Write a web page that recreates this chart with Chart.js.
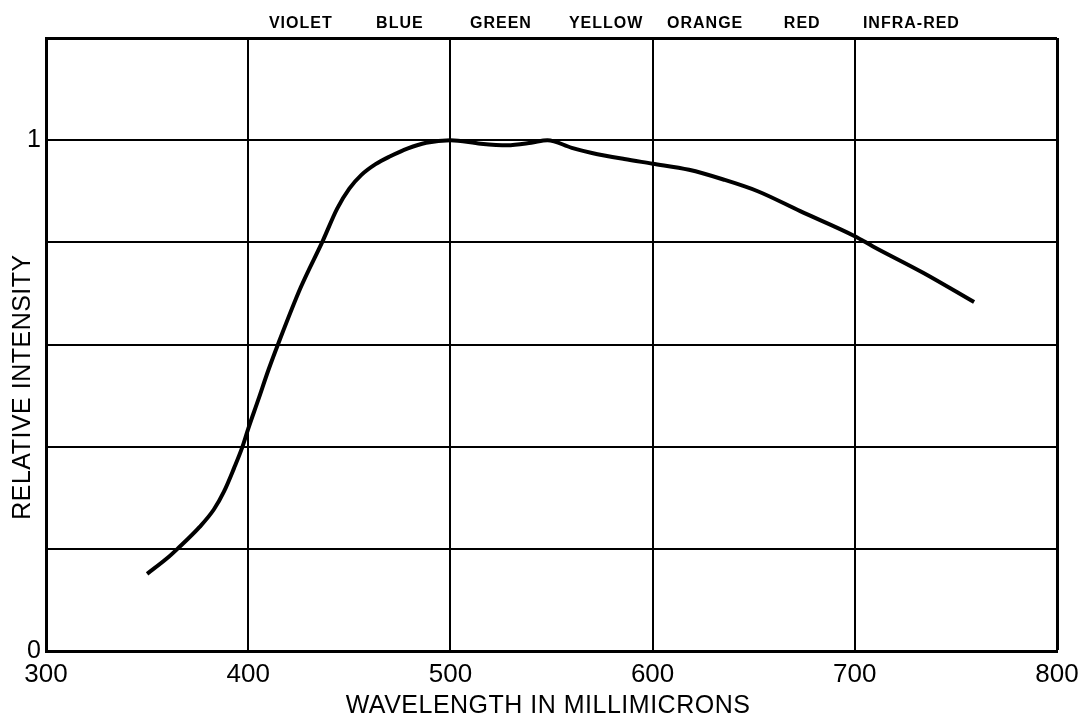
<!DOCTYPE html>
<html>
<head>
<meta charset="utf-8">
<script src="https://cdn.jsdelivr.net/npm/chart.js@4/dist/chart.umd.min.js"></script>
<style>
  html, body { margin: 0; padding: 0; background: #fff; }
  #wrap { width: 1080px; height: 721px; }
</style>
</head>
<body>
<div id="wrap"><canvas id="c" width="1080" height="721"></canvas></div>
<script>
// ---- data ----
const wavelengths = [350, 360, 365, 376, 383, 388, 393, 397, 400, 405, 410, 415, 426, 437, 444, 450, 456, 463, 470, 479, 488, 500, 515, 528, 540, 548, 560, 570, 586, 600, 618, 635, 652, 673, 700, 709, 734, 759];
const intensity   = [0.151, 0.182, 0.2, 0.243, 0.277, 0.312, 0.358, 0.398, 0.435, 0.492, 0.55, 0.603, 0.712, 0.804, 0.866, 0.905, 0.932, 0.953, 0.968, 0.984, 0.995, 1.0, 0.993, 0.99, 0.995, 1.0, 0.985, 0.975, 0.963, 0.954, 0.942, 0.923, 0.90, 0.861, 0.812, 0.792, 0.74, 0.683];
const xTickValues = [300, 400, 500, 600, 700, 800];
const yTickLabels = [0, 1];
const colorBandNames   = ['VIOLET', 'BLUE', 'GREEN', 'YELLOW', 'ORANGE', 'RED', 'INFRA-RED'];
const colorBandCenters = [426, 475, 525, 577, 626, 674, 728];
const xTitle = 'WAVELENGTH IN MILLIMICRONS';
const yTitle = 'RELATIVE INTENSITY';

const SANS = "'Liberation Sans', Arial, sans-serif";

const labelsPlugin = {
  id: 'labelsPlugin',
  afterDraw(chart) {
    const ctx = chart.ctx;
    const xs = chart.scales.x;
    ctx.save();
    ctx.fillStyle = '#000';
    // colour band names above the plot
    ctx.font = 'bold 16px ' + SANS;
    ctx.letterSpacing = '1px';
    ctx.textAlign = 'center';
    ctx.textBaseline = 'middle';
    colorBandNames.forEach((n, i) => {
      ctx.fillText(n, xs.getPixelForValue(colorBandCenters[i]), 24);
    });
    // x title
    ctx.font = '25px ' + SANS;
    ctx.letterSpacing = '0.5px';
    ctx.fillText(xTitle, 548, 706);
    // y title
    ctx.translate(23, 387);
    ctx.rotate(-Math.PI / 2);
    ctx.fillText(yTitle, 0, 0);
    ctx.restore();
  }
};

new Chart(document.getElementById('c'), {
  type: 'line',
  data: {
    datasets: [{
      data: wavelengths.map((w, i) => ({ x: w, y: intensity[i] })),
      borderColor: '#000',
      borderWidth: 4,
      pointRadius: 0,
      fill: false,
      cubicInterpolationMode: 'monotone',
      borderCapStyle: 'butt'
    }]
  },
  options: {
    responsive: false,
    animation: false,
    devicePixelRatio: 1,
    layout: { padding: { top: 38, right: 23, left: 0, bottom: 0 } },
    plugins: { legend: { display: false }, tooltip: { enabled: false } },
    scales: {
      x: {
        type: 'linear',
        min: 300, max: 800,
        afterBuildTicks(scale) { scale.ticks = xTickValues.map(v => ({ value: v })); },
        afterFit(scale) { scale.height = 70; scale.paddingLeft = 0; scale.paddingRight = 0; },
        ticks: {
          color: '#000',
          font: { family: SANS, size: 26 },
          padding: 8,
          maxRotation: 0,
          callback: v => String(v)
        },
        grid: {
          color: '#000',
          lineWidth: ctx => (ctx.tick && ctx.tick.value === 800) ? 3 : 2,
          drawTicks: false
        },
        border: { color: '#000', width: 3 }
      },
      y: {
        min: 0, max: 1.2,
        ticks: {
          stepSize: 0.2,
          color: '#000',
          font: { family: SANS, size: 25 },
          padding: 5,
          callback: v => {
            const r = Math.round(v * 10) / 10;
            return yTickLabels.includes(r) ? String(r) : '';
          }
        },
        afterFit(scale) { scale.width = 46; scale.paddingTop = 0; scale.paddingBottom = 0; },
        grid: {
          color: '#000',
          lineWidth: ctx => (ctx.tick && Math.abs(ctx.tick.value - 1.2) < 1e-6) ? 3 : 2,
          drawTicks: false
        },
        border: { color: '#000', width: 3 }
      }
    }
  },
  plugins: [labelsPlugin]
});
</script>
</body>
</html>
